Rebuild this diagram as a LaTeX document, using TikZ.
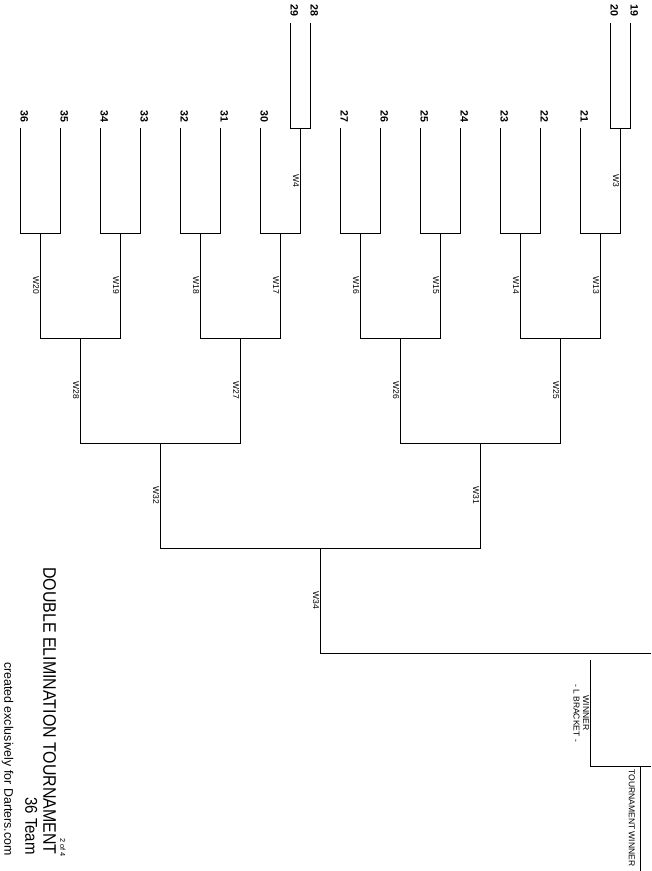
\documentclass[tikz,border=0pt]{standalone}
\usepackage{fontspec}
\setmainfont{Liberation Sans}
\usetikzlibrary{calc}
% bracket: name, x left, x right, y top, y bottom
\newcommand\brk[5]{%
  \coordinate (#1l) at (#2,#4);
  \coordinate (#1r) at (#3,#4);
  \coordinate (#1bl) at (#2,#5);
  \coordinate (#1br) at (#3,#5);
  \coordinate (#1m) at ($(#1bl)!0.5!(#1br)$);
  \draw[ln] (#1l) -- (#1bl) -- (#1br) -- (#1r);}
\begin{document}
\begin{tikzpicture}[x=0.75pt,y=-0.75pt,
  ln/.style={line width=0.75pt},
  num/.style={rotate=-90, anchor=base east, inner sep=0pt, font=\bfseries\fontsize{8}{8}\selectfont},
  wl/.style={rotate=-90, anchor=north, inner sep=0pt, font=\fontsize{6.4}{7.2}\selectfont, align=center},
  ttl/.style={rotate=-90, anchor=base east, inner sep=0pt}]
\useasboundingbox (0,0) rectangle (651,871);
% pre-round
\brk{q4}{290}{310}{23}{128}
\brk{q3}{610}{630}{23}{128}
% round 1
\brk{a1}{20}{60}{128}{233}
\brk{a2}{100}{140}{128}{233}
\brk{a3}{180}{220}{128}{233}
\brk{a4}{260}{300}{128}{233}
\brk{a5}{340}{380}{128}{233}
\brk{a6}{420}{460}{128}{233}
\brk{a7}{500}{540}{128}{233}
\brk{a8}{580}{620}{128}{233}
% round 2
\brk{b1}{40}{120}{233}{338}
\brk{b2}{200}{280}{233}{338}
\brk{b3}{360}{440}{233}{338}
\brk{b4}{520}{600}{233}{338}
% round 3
\brk{c1}{80}{240}{338}{443}
\brk{c2}{400}{560}{338}{443}
% round 4
\brk{d1}{160}{480}{443}{548}
% round 5
\coordinate (e1) at (320,653);
\coordinate (e2) at (651,653);
\draw[ln] (d1m) -- (e1) -- (e2);
% final
\coordinate (f1) at (590,660);
\coordinate (f2) at (590,766);
\coordinate (f3) at (651,766);
\coordinate (g1) at (640,766);
\coordinate (g2) at (640,871);
\draw[ln] (f1) -- (f2) -- (f3);
\draw[ln] (g1) -- (g2);
% player numbers
\node[num] (n29) at (290.7,17) {29};
\node[num] (n28) at (310.7,17) {28};
\node[num] (n20) at (610.7,17) {20};
\node[num] (n19) at (630.7,17) {19};
\node[num] (n36) at (20.7,122.5) {36};
\node[num] (n35) at (60.7,122.5) {35};
\node[num] (n34) at (100.7,122.5) {34};
\node[num] (n33) at (140.7,122.5) {33};
\node[num] (n32) at (180.7,122.5) {32};
\node[num] (n31) at (220.7,122.5) {31};
\node[num] (n30) at (260.7,122.5) {30};
\node[num] (n27) at (340.7,122.5) {27};
\node[num] (n26) at (380.7,122.5) {26};
\node[num] (n25) at (420.7,122.5) {25};
\node[num] (n24) at (460.7,122.5) {24};
\node[num] (n23) at (500.7,122.5) {23};
\node[num] (n22) at (540.7,122.5) {22};
\node[num] (n21) at (580.7,122.5) {21};
% winner labels
\node[wl] (w4) at (299.3,180.5) {W4};
\node[wl] (w3) at (619.3,180.5) {W3};
\node[wl] (w20) at (39.3,285.5) {W20};
\node[wl] (w19) at (119.3,285.5) {W19};
\node[wl] (w18) at (199.3,285.5) {W18};
\node[wl] (w17) at (279.3,285.5) {W17};
\node[wl] (w16) at (359.3,285.5) {W16};
\node[wl] (w15) at (439.3,285.5) {W15};
\node[wl] (w14) at (519.3,285.5) {W14};
\node[wl] (w13) at (599.3,285.5) {W13};
\node[wl] (w28) at (79.3,390.5) {W28};
\node[wl] (w27) at (239.3,390.5) {W27};
\node[wl] (w26) at (399.3,390.5) {W26};
\node[wl] (w25) at (559.3,390.5) {W25};
\node[wl] (w32) at (159.3,495.5) {W32};
\node[wl] (w31) at (479.3,495.5) {W31};
\node[wl] (w34) at (319.3,600.5) {W34};
\node[wl] (lb) at (589.3,713) {WINNER\\- L BRACKET -};
\node[wl] (tw) at (635,818) {TOURNAMENT WINNER};
% titles
\node[ttl, font=\fontsize{13.6}{14}\selectfont] (t1) at (43.3,855) {\scalebox{0.88}[1]{DOUBLE ELIMINATION TOURNAMENT}};
\node[ttl, font=\fontsize{12.8}{14}\selectfont] (t2) at (25.3,855) {\scalebox{0.88}[1]{36 Team}};
\node[ttl, font=\fontsize{9.3}{10}\selectfont] (t3) at (4.3,856) {created exclusively for Darters.com};
\node[ttl, font=\fontsize{5.5}{6}\selectfont] (t4) at (60,857) {2 of 4};
\end{tikzpicture}
\end{document}
